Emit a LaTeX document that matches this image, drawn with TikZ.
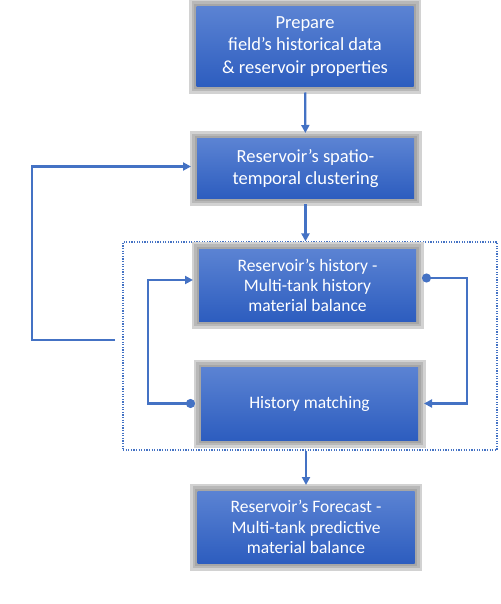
\documentclass[tikz,border=0pt]{standalone}
\usepackage{fontspec}
\setmainfont{Carlito}
\usetikzlibrary{arrows.meta}
\definecolor{flow-blue}{HTML}{4472C4}
\definecolor{box-top}{HTML}{5B83D3}
\definecolor{box-bottom}{HTML}{2D5DBF}
\definecolor{frame-gray}{HTML}{A6A6A6}

\begin{document}
\begin{tikzpicture}[x=1pt, y=-1pt,
    block/.style={rectangle, top color=box-top, bottom color=box-bottom, text=white, minimum width=217pt, align=center, inner sep=0pt, outer sep=6pt,
        preaction={draw=frame-gray!50, line width=15pt},
        preaction={draw=frame-gray!80, line width=10pt},
        preaction={draw=frame-gray, line width=5pt},
        font=\fontsize{18.5}{22.5}\selectfont},
    group/.style={rectangle, draw=flow-blue, line width=1.2pt, dash pattern=on 1.2pt off 1.4pt, minimum width=374pt, minimum height=208pt},
    arrow/.style={-{Triangle[length=8pt, width=8pt]}, line width=2.2pt, draw=flow-blue},
    loopback/.style={{Circle[length=9pt]}-{Triangle[length=8pt, width=8pt]}, line width=2.2pt, draw=flow-blue}
]
    \useasboundingbox (0,0) rectangle (500,604);

    \node[group] (grp) at (310, 346) {};

    \node[block, minimum height=80pt] (prep) at (305, 46.5) {Prepare\\field’s historical data\\\& reservoir properties};
    \node[block, minimum height=59pt] (clust) at (305.5, 168.5) {Reservoir’s spatio-\\temporal clustering};
    \node[block, minimum height=72pt, font=\fontsize{17.5}{20}\selectfont] (hist) at (307.5, 285) {Reservoir’s history -\\Multi-tank history\\material balance};
    \node[block, minimum height=73pt, font=\fontsize{17.5}{20}\selectfont] (match) at (309.5, 403.5) {History matching};
    \node[block, minimum height=72pt, font=\fontsize{17.5}{20.5}\selectfont] (fcst) at (306, 527) {Reservoir’s Forecast -\\Multi-tank predictive\\material balance};

    \coordinate (fb) at (115, 340);

    \draw[arrow] (prep) -- (clust);
    \draw[arrow] (clust.south) -- (clust.south |- grp.north);
    \draw[arrow] (grp.south -| fcst.north) -- (fcst.north);
    \draw[arrow] (fb) -- ++(-83, 0) |- ([yshift=2pt]clust.west);
    \draw[loopback] (match.west) -- ++(-47, 0) |- ([yshift=5pt]hist.west);
    \draw[loopback] ([yshift=7pt]hist.east) -- ++(45, 0) |- (match.east);
\end{tikzpicture}
\end{document}
